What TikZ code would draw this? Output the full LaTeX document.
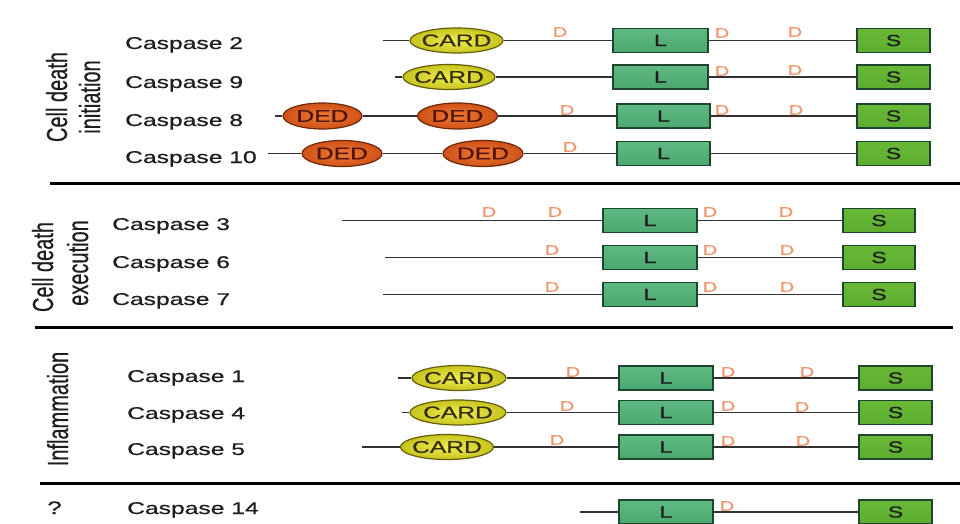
\documentclass[tikz,border=0pt]{standalone}
\usepackage{fontspec}
\setmainfont{Liberation Sans}[FakeBold=0.5]
\usetikzlibrary{shapes.geometric}
\newcommand{\hs}[1]{\scalebox{1.45}[1]{#1}}
\newcommand{\vs}[1]{\scalebox{1}[1.45]{#1}}
\definecolor{txt}{RGB}{30,30,30}
\definecolor{conncol}{RGB}{50,50,50}
\definecolor{Ltop}{RGB}{95,185,130}
\definecolor{Lmid}{RGB}{140,212,165}
\definecolor{Lbot}{RGB}{75,168,112}
\definecolor{Stop}{RGB}{105,185,55}
\definecolor{Smid}{RGB}{130,202,75}
\definecolor{Sbot}{RGB}{92,172,48}
\definecolor{boxedge}{RGB}{30,70,45}
\definecolor{cardin}{RGB}{238,236,80}
\definecolor{cardout}{RGB}{200,196,30}
\definecolor{cardedge}{RGB}{100,95,10}
\definecolor{cardtxt}{RGB}{50,45,10}
\definecolor{dedin}{RGB}{238,120,50}
\definecolor{dedout}{RGB}{208,82,25}
\definecolor{dededge}{RGB}{110,40,10}
\definecolor{dedtxt}{RGB}{80,20,0}
\definecolor{dcol}{RGB}{240,150,110}
\tikzset{
  conn/.style={draw=conncol, line width=1.4},
  sepline/.style={draw=black, line width=3},
  lab/.style={anchor=base west, inner sep=0, font=\fontsize{17}{20}\selectfont, text=txt},
  grp/.style={anchor=base, rotate=90, inner sep=0, font=\fontsize{20}{24}\selectfont, text=txt},
  lbox/.style={rectangle, minimum width=95, minimum height=24, inner sep=0, draw=boxedge, line width=1.3,
    top color=Ltop, middle color=Lmid, bottom color=Lbot, font=\fontsize{16}{16}\selectfont, text=txt},
  sbox/.style={rectangle, minimum width=73, minimum height=24, inner sep=0, draw=boxedge, line width=1.3,
    top color=Stop, middle color=Smid, bottom color=Sbot, font=\fontsize{16}{16}\selectfont, text=txt},
  card/.style={ellipse, minimum width=93, minimum height=25, inner sep=0, draw=cardedge, line width=1.2,
    shading=radial, inner color=cardin, outer color=cardout, font=\fontsize{17}{17}\selectfont, text=cardtxt},
  ded/.style={ellipse, minimum width=80, minimum height=26, inner sep=0, draw=dededge, line width=1.2,
    shading=radial, inner color=dedin, outer color=dedout, font=\fontsize{17}{17}\selectfont, text=dedtxt},
  dmark/.style={inner sep=0, font=\fontsize{14}{14}\selectfont, text=dcol},
}
\newcommand{\etxt}[1]{\makebox[0pt]{\hs{#1}}}
\begin{document}
\begin{tikzpicture}[x=1pt,y=-1pt]
\useasboundingbox[fill=white] (0,0) rectangle (960,524);

% separators
\coordinate (sa1) at (50,183);  \coordinate (sb1) at (960,183);
\coordinate (sa2) at (35,327);  \coordinate (sb2) at (953,327);
\coordinate (sa3) at (40,483);  \coordinate (sb3) at (960,483);
\draw[sepline] (sa1) -- (sb1);
\draw[sepline] (sa2) -- (sb2);
\draw[sepline] (sa3) -- (sb3);

% group labels
\node[grp] (g1a) at (67,97) {\vs{Cell death}};
\node[grp] (g1b) at (100,97) {\vs{initiation}};
\node[grp] (g2a) at (53,267) {\vs{Cell death}};
\node[grp] (g2b) at (88,263) {\vs{execution}};
\node[grp] (g3) at (68,409) {\vs{Inflammation}};
\node[lab, font=\fontsize{18}{20}\selectfont] (q) at (47,514) {\hs{?}};

% caspase labels
\node[lab] (t2) at (125,49) {\hs{Caspase 2}};
\node[lab] (t9) at (125,88) {\hs{Caspase 9}};
\node[lab] (t8) at (125,126) {\hs{Caspase 8}};
\node[lab] (t10) at (125,163) {\hs{Caspase 10}};
\node[lab] (t3) at (112,230) {\hs{Caspase 3}};
\node[lab] (t6) at (112,268) {\hs{Caspase 6}};
\node[lab] (t7) at (112,305) {\hs{Caspase 7}};
\node[lab] (t1) at (127,382) {\hs{Caspase 1}};
\node[lab] (t4) at (127,419) {\hs{Caspase 4}};
\node[lab] (t5) at (127,455) {\hs{Caspase 5}};
\node[lab] (t14) at (127,514) {\hs{Caspase 14}};

% Row 1: Caspase 2
\coordinate (r1s) at (383,40.5);
\node[card] (r1c) at (456.5,40.5) {\etxt{CARD}};
\node[lbox] (r1L) at (660.5,40.5) {\hs{L}};
\node[sbox] (r1S) at (893.5,40.5) {\hs{S}};
\draw[conn] (r1s) -- (r1c.west); \draw[conn] (r1c.east) -- (r1L.west); \draw[conn] (r1L.east) -- (r1S.west);
\node[dmark] (r1d1) at (560,32) {\hs{D}};
\node[dmark] (r1d2) at (722,33) {\hs{D}};
\node[dmark] (r1d3) at (795,32) {\hs{D}};

% Row 2: Caspase 9
\coordinate (r2s) at (395,77);
\node[card, minimum width=92] (r2c) at (449,77) {\etxt{CARD}};
\node[lbox] (r2L) at (660.5,77) {\hs{L}};
\node[sbox] (r2S) at (893.5,77) {\hs{S}};
\draw[conn] (r2s) -- (r2c.west); \draw[conn] (r2c.east) -- (r2L.west); \draw[conn] (r2L.east) -- (r2S.west);
\node[dmark] (r2d1) at (722,71) {\hs{D}};
\node[dmark] (r2d2) at (795,70) {\hs{D}};

% Row 3: Caspase 8
\coordinate (r3s) at (275,116);
\node[ded, minimum width=79] (r3a) at (322.5,116) {\etxt{DED}};
\node[ded] (r3b) at (457.5,116) {\etxt{DED}};
\node[lbox, minimum width=93] (r3L) at (663.5,116) {\hs{L}};
\node[sbox] (r3S) at (893.5,116) {\hs{S}};
\draw[conn] (r3s) -- (r3a.west); \draw[conn] (r3a.east) -- (r3b.west); \draw[conn] (r3b.east) -- (r3L.west); \draw[conn] (r3L.east) -- (r3S.west);
\node[dmark] (r3d1) at (567,110) {\hs{D}};
\node[dmark] (r3d2) at (722,110) {\hs{D}};
\node[dmark] (r3d3) at (796,110) {\hs{D}};

% Row 4: Caspase 10
\coordinate (r4s) at (268,153.5);
\node[ded] (r4a) at (342,153.5) {\etxt{DED}};
\node[ded] (r4b) at (483,153.5) {\etxt{DED}};
\node[lbox, minimum width=93] (r4L) at (663.5,153.5) {\hs{L}};
\node[sbox] (r4S) at (893.5,153.5) {\hs{S}};
\draw[conn] (r4s) -- (r4a.west); \draw[conn] (r4a.east) -- (r4b.west); \draw[conn] (r4b.east) -- (r4L.west); \draw[conn] (r4L.east) -- (r4S.west);
\node[dmark] (r4d1) at (570,147) {\hs{D}};

% Row 5: Caspase 3
\coordinate (r5s) at (342,220.5);
\node[lbox, minimum width=94] (r5L) at (650,220.5) {\hs{L}};
\node[sbox, minimum width=72] (r5S) at (879,220.5) {\hs{S}};
\draw[conn] (r5s) -- (r5L.west); \draw[conn] (r5L.east) -- (r5S.west);
\node[dmark] (r5d1) at (489,212) {\hs{D}};
\node[dmark] (r5d2) at (555,212) {\hs{D}};
\node[dmark] (r5d3) at (710,212) {\hs{D}};
\node[dmark] (r5d4) at (786,212) {\hs{D}};

% Row 6: Caspase 6
\coordinate (r6s) at (385,257.5);
\node[lbox, minimum width=94] (r6L) at (650,257.5) {\hs{L}};
\node[sbox, minimum width=72] (r6S) at (879,257.5) {\hs{S}};
\draw[conn] (r6s) -- (r6L.west); \draw[conn] (r6L.east) -- (r6S.west);
\node[dmark] (r6d1) at (552,250) {\hs{D}};
\node[dmark] (r6d2) at (710,250) {\hs{D}};
\node[dmark] (r6d3) at (787,250) {\hs{D}};

% Row 7: Caspase 7
\coordinate (r7s) at (383,294.5);
\node[lbox, minimum width=94] (r7L) at (650,294.5) {\hs{L}};
\node[sbox, minimum width=72] (r7S) at (879,294.5) {\hs{S}};
\draw[conn] (r7s) -- (r7L.west); \draw[conn] (r7L.east) -- (r7S.west);
\node[dmark] (r7d1) at (552,287) {\hs{D}};
\node[dmark] (r7d2) at (710,287) {\hs{D}};
\node[dmark] (r7d3) at (787,287) {\hs{D}};

% Row 8: Caspase 1
\coordinate (r8s) at (398,378);
\node[card, minimum width=94] (r8c) at (459,378) {\etxt{CARD}};
\node[lbox, minimum width=94] (r8L) at (666,378) {\hs{L}};
\node[sbox] (r8S) at (895.5,378) {\hs{S}};
\draw[conn] (r8s) -- (r8c.west); \draw[conn] (r8c.east) -- (r8L.west); \draw[conn] (r8L.east) -- (r8S.west);
\node[dmark] (r8d1) at (573,372) {\hs{D}};
\node[dmark] (r8d2) at (728,372) {\hs{D}};
\node[dmark] (r8d3) at (807,372) {\hs{D}};

% Row 9: Caspase 4
\coordinate (r9s) at (402,412.5);
\node[card, minimum width=96] (r9c) at (458,412.5) {\etxt{CARD}};
\node[lbox, minimum width=94] (r9L) at (666,412.5) {\hs{L}};
\node[sbox] (r9S) at (895.5,412.5) {\hs{S}};
\draw[conn] (r9s) -- (r9c.west); \draw[conn] (r9c.east) -- (r9L.west); \draw[conn] (r9L.east) -- (r9S.west);
\node[dmark] (r9d1) at (567,406) {\hs{D}};
\node[dmark] (r9d2) at (728,406) {\hs{D}};
\node[dmark] (r9d3) at (802,407) {\hs{D}};

% Row 10: Caspase 5
\coordinate (r10s) at (362,447);
\node[card] (r10c) at (447,447) {\etxt{CARD}};
\node[lbox, minimum width=94] (r10L) at (666,447) {\hs{L}};
\node[sbox] (r10S) at (895.5,447) {\hs{S}};
\draw[conn] (r10s) -- (r10c.west); \draw[conn] (r10c.east) -- (r10L.west); \draw[conn] (r10L.east) -- (r10S.west);
\node[dmark] (r10d1) at (557,440) {\hs{D}};
\node[dmark] (r10d2) at (728,441) {\hs{D}};
\node[dmark] (r10d3) at (803,441) {\hs{D}};

% Row 11: Caspase 14
\coordinate (r11s) at (580,512);
\node[lbox, minimum width=94] (r11L) at (666,512) {\hs{L}};
\node[sbox] (r11S) at (895.5,512) {\hs{S}};
\draw[conn] (r11s) -- (r11L.west); \draw[conn] (r11L.east) -- (r11S.west);
\node[dmark] (r11d1) at (727,506) {\hs{D}};
\end{tikzpicture}
\end{document}
